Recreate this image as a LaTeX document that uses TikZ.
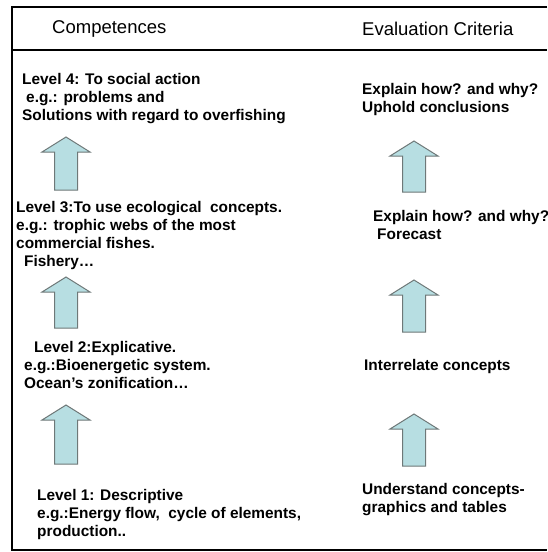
\documentclass[tikz,border=0pt]{standalone}
\usepackage{fontspec}
\setmainfont{Liberation Sans}
\usepackage{xcolor}
\definecolor{arrowFill}{HTML}{B7DEE2}
\definecolor{arrowLine}{HTML}{6E7878}
\tikzset{
  headtxt/.style={anchor=west,inner sep=0pt,font=\fontsize{18.5}{22}\selectfont},
  lvltxt/.style={anchor=north west,inner sep=0pt,align=left,
                 font=\fontsize{15.4}{18}\selectfont\bfseries},
  blockarr/.style={fill=arrowFill,draw=arrowLine,line width=1pt,line join=miter},
  frameline/.style={line width=2pt,draw=black}
}
% block arrow pointing up: centre x, tip y, bottom y
\newcommand{\lvlarrow}[3]{%
  \filldraw[blockarr] (#1-11.5,#3) -- (#1-11.5,#2+15) -- (#1-24,#2+15) -- (#1,#2)
    -- (#1+24,#2+15) -- (#1+11.5,#2+15) -- (#1+11.5,#3) -- cycle;}

\begin{document}
\begin{tikzpicture}[x=1pt,y=-1pt]
\useasboundingbox (0,0) rectangle (547,552);

% frame
\draw[frameline] (547,7) -- (12,7) -- (12,550) -- (547,550);
\draw[frameline] (12,50) -- (547,50);

% headers
\node[headtxt] (comphead) at (52,29) {Competences};
\node[headtxt] (evalhead) at (362,29) {Evaluation Criteria};

% competences
\node[lvltxt] (lvlfour)  at (22,73)   {Level 4: To social action\\
  \hspace*{4pt}e.g.: problems and\\Solutions with regard to overfishing};
\node[lvltxt] (lvlthree) at (16,201)  {Level 3:To use ecological\ \ concepts.\\
  e.g.: trophic webs of the most\\commercial fishes.\\\hspace*{8pt}Fishery\ldots};
\node[lvltxt] (lvltwo)   at (24,341)  {\hspace*{10pt}Level 2:Explicative.\\
  e.g.:Bioenergetic system.\\Ocean's zonification\ldots};
\node[lvltxt] (lvlone)   at (37,489)  {Level 1: Descriptive\\
  e.g.:Energy flow,\ \ cycle of elements,\\production..};

% evaluation criteria
\node[lvltxt] (critfour)  at (362,83)  {Explain how? and why?\\Uphold conclusions};
\node[lvltxt] (critthree) at (373,210) {Explain how? and why?\\\hspace*{4pt}Forecast};
\node[lvltxt] (crittwo)   at (364,359) {Interrelate concepts};
\node[lvltxt] (critone)   at (362,483) {Understand concepts-\\graphics and tables};

% arrows
\lvlarrow{66}{137}{190}
\lvlarrow{66}{277}{328}
\lvlarrow{66}{405}{464}
\lvlarrow{414}{141}{192}
\lvlarrow{414}{280}{332}
\lvlarrow{414}{414}{466}

\end{tikzpicture}
\end{document}
